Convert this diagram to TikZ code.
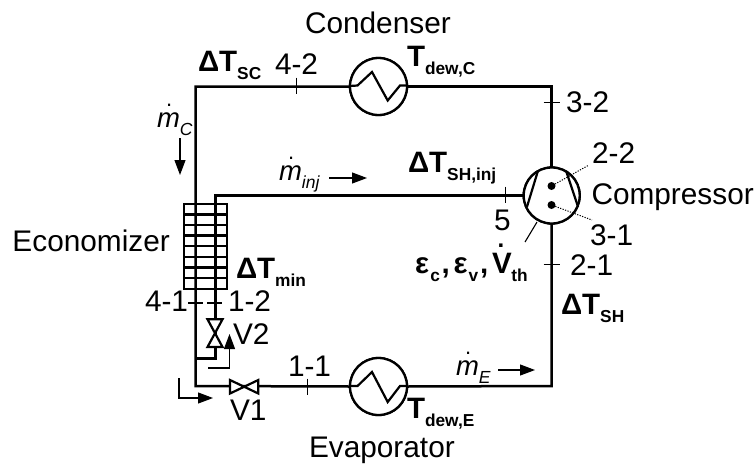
\documentclass[tikz,border=0pt]{standalone}
\usepackage{fontspec}
\setmainfont{Liberation Sans}
\usetikzlibrary{arrows.meta}
\newcommand{\subB}[1]{\raisebox{-8pt}{\fontsize{17.3}{17.3}\selectfont\bfseries #1}}
\newcommand{\subI}[1]{\raisebox{-8pt}{\fontsize{17.5}{17.5}\selectfont\itshape #1}}
\newcommand{\dotM}{\makebox[0pt][l]{\hspace{9pt}\smash{\raisebox{21pt}{\fontsize{22}{22}\selectfont\upshape .}}}\textit{m}}
\newcommand{\dotV}{\makebox[0pt][l]{\hspace{5.7pt}\smash{\raisebox{26pt}{\fontsize{24}{24}\selectfont .}}}V}
\newcommand{\cell}[2]{\makebox[#1pt][l]{#2}}
\tikzset{
  x=1pt,y=-1pt,
  every node/.style={inner sep=0pt,outer sep=0pt},
  pipe/.style={line width=2.5pt,line join=miter},
  tickmark/.style={line width=1.1pt},
  hx/.style={circle,draw,line width=2.3pt,minimum size=57pt,fill=white},
  comp/.style={circle,draw,line width=2.3pt,minimum size=56pt,fill=white},
  lbl/.style={anchor=base west,font=\fontsize{29.8}{29.8}\selectfont},
  mlbl/.style={anchor=base west,font=\fontsize{27.5}{27.5}\selectfont},
  blbl/.style={anchor=base west,font=\fontsize{29.5}{29.5}\selectfont\bfseries},
  flow/.style={line width=1.1pt,-{Triangle[length=15pt,width=11pt]}},
  leader/.style={line width=1pt,dash pattern=on 1.2pt off 1.4pt},
  valve/.style={line width=2.2pt,fill=white,line join=miter},
  zig/.style={line width=2.2pt},
}
\begin{document}
\begin{tikzpicture}
\useasboundingbox (0,0) rectangle (754,463);
% corners
\coordinate (tl) at (195.7,86.5);
\coordinate (tr) at (551.7,86.5);
\coordinate (bl) at (195.7,386);
\coordinate (br) at (551.7,386);
\coordinate (vj) at (215.5,358.7);
\coordinate (vjl) at (195.7,358.7);
\coordinate (ihx) at (215.5,195.5);
\node[comp] (cp) at (551.7,195.5) {};
\node[hx] (cd) at (378.5,86.5) {};
\node[hx] (ev) at (378.5,386.5) {};
% pipes
\draw[pipe] (cd.west) -- (tl) -- (bl) -- (ev.west);
\draw[pipe] (cd.east) -- (tr) -- (cp.north);
\draw[pipe] (ev.east) -- (br) -- (cp.south);
\draw[pipe] (cp.west) -- (ihx) -- (vj) -- (vjl);
% circles above pipes
\node[comp] at (551.7,195.5) {};
\node[hx] at (378.5,86.5) {};
\node[hx] at (378.5,386.5) {};
% heat exchanger zigzags
\draw[zig] (350,86) -- (357.5,85.5) -- (372,72) -- (387.7,100.5) -- (400,85.5) -- (407,85.5);
\draw[zig] (350,386) -- (357.5,386) -- (372,372) -- (387.7,402) -- (400,386) -- (407,386);
% economizer
\draw[line width=2.4pt] (184,203.7) rectangle (227,288.7);
\foreach \yy in {214.3,224.9,235.6,246.2,256.8,267.4,278.1}
  \draw[line width=2.4pt] (184,\yy) -- (227,\yy);
% valves
\draw[valve] (207.5,319.3) -- (222.5,319.3) -- (207.5,347) -- (222.5,347) -- cycle;
\draw[valve] (230,380) -- (230,393.5) -- (258.3,380) -- (258.3,393.5) -- cycle;
% compressor interior
\draw[zig] (538,170.7) -- (527,206.7);
\draw[zig] (566,170.7) -- (578,206.7);
\node[circle,fill=black,minimum size=8pt] (d1) at (551.5,186) {};
\node[circle,fill=black,minimum size=8pt] (d2) at (551.5,205) {};
\coordinate (l1) at (589,165);
\coordinate (l2) at (592,220);
\draw[leader] (d1) -- (l1);
\draw[leader] (d2) -- (l2);
\coordinate (ca) at (537,222);
\coordinate (cb) at (525,242);
\draw[tickmark] (ca) -- (cb);
% ticks
\draw[tickmark] (296.7,77.5) -- (296.7,94);
\draw[tickmark] (307.3,378.5) -- (307.3,395.3);
\draw[tickmark] (505.3,186.7) -- (505.3,202.7);
\draw[tickmark] (543.7,102.3) -- (559.7,102.3);
\draw[tickmark] (543.7,264.7) -- (559.7,264.7);
\draw[tickmark] (188,303) -- (203,303);
\draw[tickmark] (207,303) -- (222,303);
% flow arrows
\coordinate (a1) at (180,138); \coordinate (a2) at (180,175);
\draw[flow] (a1) -- (a2);
\coordinate (a3) at (329,178); \coordinate (a4) at (367,178);
\draw[flow] (a3) -- (a4);
\coordinate (a5) at (498,370); \coordinate (a6) at (535,370);
\draw[flow] (a5) -- (a6);
\coordinate (a7) at (179,378); \coordinate (a8) at (179,398); \coordinate (a9) at (213,398);
\draw[flow] (a7) -- (a8) -- (a9);
\coordinate (a10) at (208,368); \coordinate (a11) at (229.5,368); \coordinate (a12) at (229.5,334);
\draw[flow] (a10) -- (a11) -- (a12);
% labels
\node[lbl] (t1) at (305,33) {Condenser};
\node[lbl] (t2) at (309,457) {Evaporator};
\node[lbl] (t3) at (591.5,204) {Compressor};
\node[lbl] (t4) at (12.5,251) {Economizer};
\node[lbl] (t5) at (275,74) {4-2};
\node[lbl] (t6) at (566,112) {3-2};
\node[lbl] (t7) at (592,163) {2-2};
\node[lbl] (t8) at (590,245) {3-1};
\node[lbl] (t9) at (570,275) {2-1};
\node[lbl] (t10) at (494,230) {5};
\node[lbl] (t11) at (145,311) {4-1};
\node[lbl] (t12) at (228,311) {1-2};
\node[lbl] (t13) at (233,344) {V2};
\node[lbl] (t14) at (230,420) {V1};
\node[lbl] (t15) at (288,376) {1-1};
\node[blbl] (b1) at (198,71) {ΔT\subB{SC}};
\node[blbl] (b2) at (407,66) {T\subB{dew,C}};
\node[blbl] (b3) at (408,172) {ΔT\subB{SH,inj}};
\node[blbl] (b4) at (236,278) {ΔT\subB{min}};
\node[blbl] (b5) at (561,314) {ΔT\subB{SH}};
\node[blbl] (b6) at (407,418) {T\subB{dew,E}};
\node[blbl] (b7) at (415,273) {\cell{15.3}{ε}\cell{11.4}{\subB{c}}\cell{12}{,}\cell{15}{ε}\cell{11.3}{\subB{v}}\cell{12}{,}\cell{19.3}{\dotV}\subB{th}};
\node[mlbl] (m1) at (157,127) {\dotM\subI{C}};
\node[mlbl] (m2) at (279,180) {\dotM\subI{inj}};
\node[mlbl] (m3) at (456,375) {\dotM\subI{E}};
\end{tikzpicture}
\end{document}
